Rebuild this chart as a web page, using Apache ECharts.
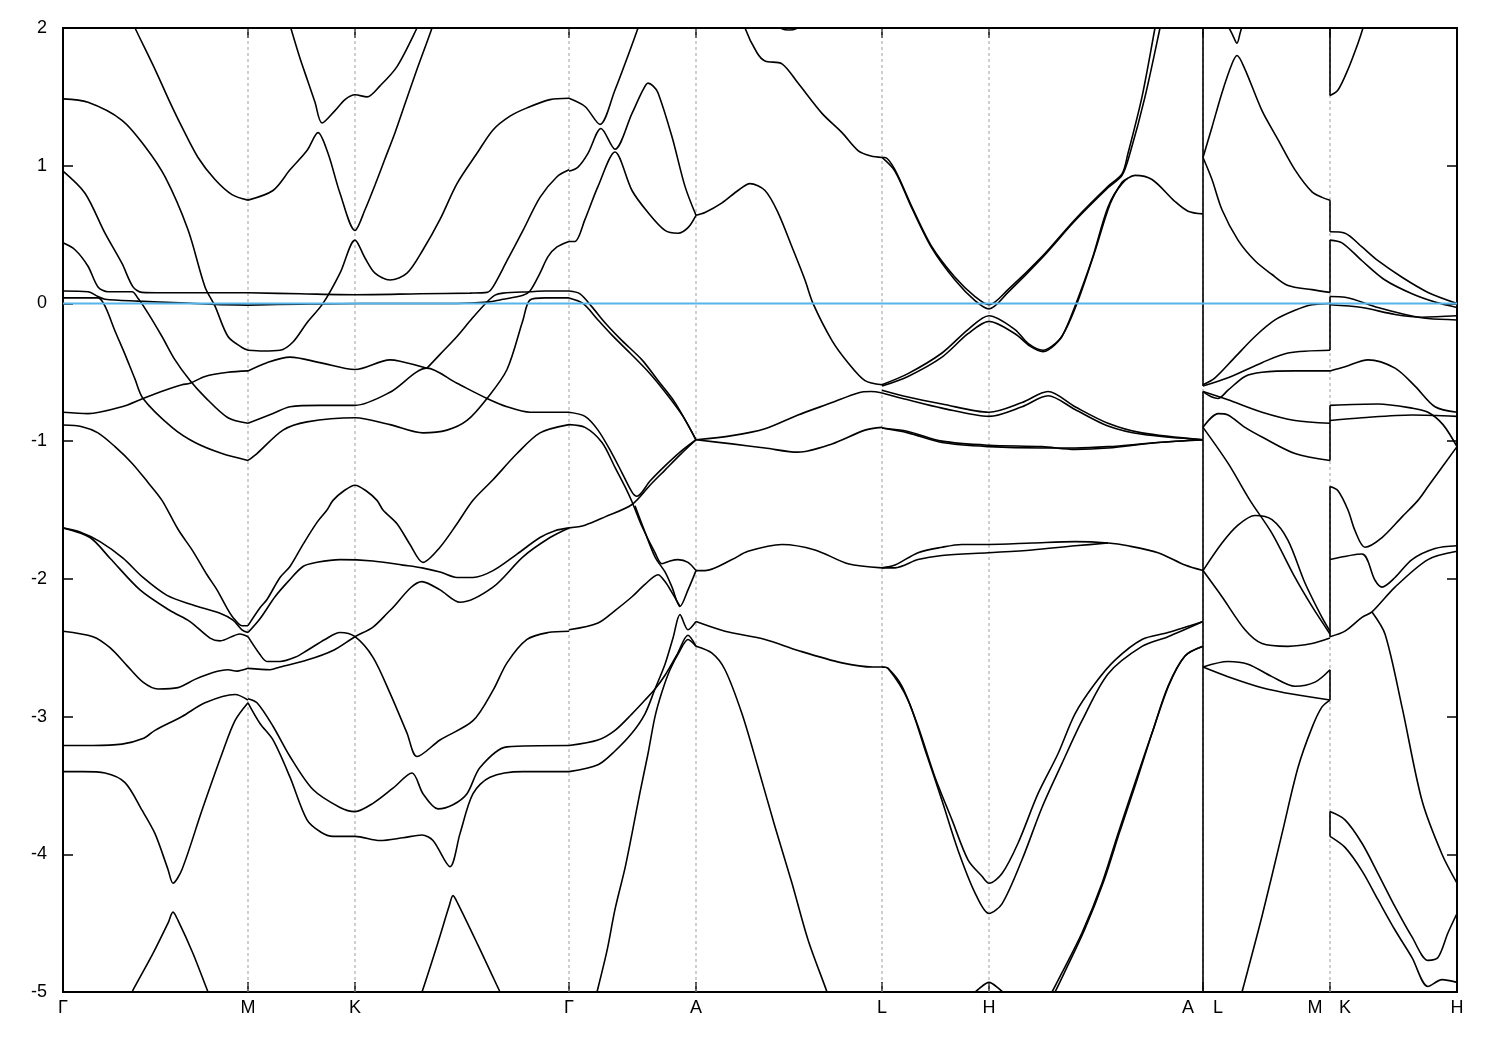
<!DOCTYPE html>
<html>
<head>
<meta charset="utf-8">
<script src="https://cdn.jsdelivr.net/npm/echarts@6/dist/echarts.min.js"></script>
<style>html,body{margin:0;padding:0;background:#fff}#c{width:1500px;height:1050px}</style>
</head>
<body>
<div id="c"></div>
<script>
// k-path positions of high-symmetry points and their labels
const kTicks = [0, 185, 292, 506, 633, 819, 926, 1140, 1267, 1394];
const kLabels = ['Γ', 'M', 'K', 'Γ', 'A', 'L', 'H', 'A|L', 'M|K', 'H'];
const fermiLevel = 0;

// Bands, Γ → M   ([k, E] pairs)
const bandsGM = [
 [[67,2.08],[72,2.0],[92,1.70],[107,1.46],[119,1.28],[135,1.06],[152,0.90],[169,0.79],[185,0.75]],
 [[0,1.485],[25,1.46],[59,1.33],[82,1.14],[102,0.92],[125,0.535],[142,0.12],[152,-0.02],[165,-0.24],[179,-0.32],[185,-0.34]],
 [[0,0.96],[22,0.80],[42,0.51],[59,0.29],[70,0.12],[79,0.08],[100,0.077],[185,0.077]],
 [[0,0.44],[12,0.39],[25,0.27],[35,0.12],[45,0.085],[69,0.085],[75,0.037],[85,-0.07],[99,-0.24],[112,-0.41],[127,-0.56],[142,-0.68],[165,-0.83],[185,-0.87]],
 [[0,0.09],[25,0.085],[35,0.05],[42,0.03],[75,0.017],[117,0.005],[152,-0.007],[185,-0.012]],
 [[0,0.04],[35,0.04],[42,-0.02],[52,-0.20],[62,-0.37],[72,-0.55],[80,-0.69],[109,-0.90],[132,-1.01],[159,-1.09],[185,-1.14]],
 [[0,-0.79],[25,-0.80],[59,-0.75],[80,-0.69],[102,-0.63],[119,-0.59],[127,-0.58],[142,-0.53],[165,-0.50],[185,-0.49]],
 [[0,-0.883],[19,-0.895],[35,-0.94],[52,-1.04],[69,-1.16],[85,-1.30],[99,-1.43],[115,-1.64],[130,-1.80],[144,-1.97],[154,-2.08],[163,-2.20],[170,-2.28],[179,-2.34],[185,-2.34]],
 [[0,-1.63],[17,-1.66],[37,-1.73],[60,-1.85],[80,-1.99],[104,-2.12],[130,-2.19],[157,-2.25],[170,-2.30],[179,-2.37],[185,-2.39]],
 [[0,-1.63],[27,-1.70],[47,-1.85],[77,-2.08],[107,-2.23],[127,-2.31],[147,-2.43],[157,-2.45],[177,-2.40],[185,-2.42]],
 [[0,-2.38],[30,-2.42],[47,-2.50],[64,-2.63],[80,-2.75],[95,-2.80],[115,-2.79],[132,-2.73],[150,-2.68],[165,-2.66],[174,-2.67],[185,-2.65]],
 [[0,-3.21],[30,-3.21],[59,-3.20],[80,-3.16],[92,-3.10],[119,-3.00],[142,-2.90],[172,-2.84],[185,-2.88]],
 [[0,-3.40],[20,-3.40],[42,-3.41],[62,-3.48],[79,-3.68],[92,-3.85],[105,-4.11],[110,-4.21],[119,-4.11],[139,-3.68],[159,-3.27],[172,-3.03],[185,-2.90]],
 [[66,-5.05],[69,-5.0],[90,-4.72],[105,-4.50],[110,-4.42],[115,-4.48],[130,-4.72],[145,-5.0],[148,-5.05]]
];

// Bands, M → K → Γ
const bandsMKG = [
 [[224,2.1],[227,2.02],[237,1.78],[245,1.61],[252,1.46],[259,1.31],[272,1.40],[282,1.48],[292,1.515],[304,1.50],[317,1.58],[334,1.72],[354,2.0],[357,2.06]],
 [[185,0.75],[210,0.82],[227,0.97],[244,1.11],[255,1.24],[265,1.09],[277,0.80],[292,0.53],[302,0.68],[312,0.86],[322,1.05],[332,1.24],[342,1.45],[354,1.70],[369,2.0],[371,2.06]],
 [[185,-0.34],[200,-0.345],[217,-0.34],[230,-0.28],[244,-0.14],[260,0.0],[277,0.22],[292,0.46],[302,0.33],[312,0.22],[327,0.17],[344,0.22],[360,0.39],[377,0.61],[394,0.87],[414,1.09],[430,1.26],[447,1.36],[464,1.42],[487,1.48],[506,1.49]],
 [[185,0.077],[237,0.07],[292,0.063],[357,0.07],[407,0.075],[424,0.08],[430,0.12],[444,0.31],[460,0.53],[477,0.77],[494,0.92],[506,0.97]],
 [[185,-0.012],[237,-0.005],[297,0.0],[357,0.0],[394,0.0],[424,0.01],[440,0.03],[460,0.06],[467,0.09],[477,0.22],[485,0.34],[494,0.41],[506,0.45]],
 [[364,-0.47],[377,-0.37],[394,-0.24],[409,-0.11],[424,0.01],[432,0.06],[440,0.075],[467,0.085],[482,0.09],[506,0.09]],
 [[185,-0.49],[204,-0.43],[227,-0.39],[257,-0.43],[292,-0.48],[327,-0.41],[337,-0.42],[364,-0.47]],
 [[185,-0.87],[210,-0.80],[227,-0.75],[257,-0.74],[292,-0.74],[327,-0.645],[364,-0.47],[394,-0.58],[424,-0.69],[444,-0.75],[467,-0.79],[506,-0.79]],
 [[185,-1.14],[194,-1.09],[220,-0.92],[244,-0.86],[292,-0.83],[327,-0.88],[360,-0.94],[384,-0.92],[404,-0.85],[424,-0.69],[444,-0.48],[460,-0.12],[467,0.025],[482,0.04],[506,0.04]],
 [[185,-2.34],[197,-2.21],[204,-2.15],[217,-1.99],[227,-1.91],[240,-1.75],[254,-1.59],[264,-1.50],[270,-1.43],[281,-1.36],[292,-1.32],[303,-1.36],[314,-1.43],[320,-1.50],[334,-1.60],[347,-1.75],[360,-1.88],[377,-1.77],[394,-1.60],[410,-1.43],[430,-1.28],[454,-1.09],[477,-0.94],[506,-0.88]],
 [[185,-2.39],[197,-2.29],[212,-2.13],[225,-2.02],[240,-1.91],[254,-1.88],[277,-1.86],[310,-1.87],[340,-1.90],[359,-1.92],[377,-1.95],[394,-1.99],[410,-1.99],[430,-1.94],[454,-1.82],[477,-1.70],[492,-1.65],[506,-1.63]],
 [[185,-2.65],[207,-2.66],[217,-2.64],[244,-2.59],[270,-2.52],[292,-2.42],[310,-2.35],[327,-2.23],[359,-2.02],[377,-2.08],[397,-2.17],[430,-2.06],[460,-1.84],[487,-1.70],[506,-1.63]],
 [[185,-2.42],[197,-2.55],[204,-2.60],[217,-2.60],[232,-2.57],[244,-2.52],[262,-2.44],[277,-2.39],[292,-2.42],[310,-2.57],[327,-2.83],[344,-3.12],[354,-3.29],[377,-3.17],[410,-3.03],[430,-2.81],[444,-2.61],[464,-2.44],[485,-2.39],[506,-2.38]],
 [[185,-2.87],[194,-2.90],[210,-3.07],[227,-3.29],[250,-3.53],[277,-3.66],[292,-3.69],[310,-3.63],[330,-3.52],[349,-3.41],[360,-3.56],[375,-3.67],[390,-3.64],[404,-3.56],[417,-3.37],[444,-3.22],[506,-3.21]],
 [[185,-2.90],[197,-3.05],[210,-3.17],[227,-3.44],[244,-3.75],[258,-3.84],[270,-3.87],[292,-3.87],[317,-3.90],[340,-3.88],[359,-3.86],[370,-3.90],[387,-4.09],[397,-3.85],[410,-3.56],[427,-3.44],[460,-3.40],[506,-3.40]],
 [[356,-5.05],[359,-5.0],[375,-4.64],[386,-4.38],[390,-4.30],[395,-4.36],[415,-4.66],[437,-5.0],[440,-5.05]]
];

// Bands, Γ → A
const bandsGA = [
 [[506,1.49],[522,1.43],[537,1.30],[552,1.55],[562,1.74],[575,2.0],[578,2.08]],
 [[506,0.96],[515,0.99],[525,1.09],[538,1.27],[552,1.12],[569,1.38],[580,1.55],[585,1.60],[590,1.58],[595,1.53],[609,1.21],[622,0.85],[633,0.64]],
 [[506,0.45],[512,0.45],[522,0.61],[535,0.85],[552,1.10],[569,0.82],[585,0.66],[602,0.53],[615,0.51],[625,0.55],[633,0.64]],
 [[506,0.09],[517,0.07],[529,-0.025],[542,-0.14],[559,-0.27],[579,-0.41],[595,-0.56],[612,-0.72],[633,-0.99]],
 [[506,0.04],[520,0.0],[535,-0.12],[549,-0.23],[567,-0.36],[587,-0.51],[605,-0.67],[620,-0.82],[633,-0.99]],
 [[506,-0.79],[522,-0.82],[535,-0.92],[549,-1.09],[559,-1.23],[569,-1.37],[574,-1.40],[587,-1.29],[602,-1.18],[617,-1.08],[633,-0.99]],
 [[506,-1.63],[522,-1.61],[542,-1.55],[569,-1.46],[587,-1.32],[602,-1.21],[617,-1.10],[633,-0.99]],
 [[506,-0.88],[522,-0.90],[539,-1.01],[552,-1.19],[562,-1.33],[569,-1.44],[579,-1.62],[592,-1.81],[599,-1.89],[607,-1.87],[615,-1.86],[625,-1.88],[633,-1.94]],
 [[572,-1.47],[582,-1.66],[592,-1.84],[602,-1.95],[609,-2.06],[617,-2.20],[625,-2.08],[633,-1.94]],
 [[506,-2.37],[535,-2.32],[552,-2.23],[569,-2.13],[582,-2.04],[595,-1.97],[602,-2.02],[609,-2.10],[617,-2.20]],
 [[506,-3.40],[535,-3.35],[552,-3.25],[569,-3.12],[582,-2.98],[592,-2.80],[602,-2.62],[610,-2.43],[617,-2.26],[625,-2.37],[633,-2.31]],
 [[506,-3.21],[535,-3.17],[552,-3.10],[569,-2.98],[582,-2.88],[592,-2.80],[602,-2.70],[614,-2.55],[625,-2.41],[633,-2.49]],
 [[532,-5.05],[534,-5.0],[544,-4.70],[552,-4.40],[562,-4.10],[569,-3.85],[577,-3.55],[585,-3.27],[592,-3.00],[599,-2.82],[607,-2.66],[617,-2.52],[625,-2.44],[633,-2.49]]
];

// Bands, A → L
const bandsAL = [
 [[633,0.64],[642,0.66],[659,0.73],[675,0.82],[687,0.87],[702,0.82],[715,0.66],[729,0.41],[742,0.17],[750,0.0],[769,-0.27],[785,-0.43],[802,-0.56],[819,-0.59]],
 [[679,2.12],[682,2.0],[694,1.82],[702,1.76],[719,1.74],[735,1.60],[759,1.38],[779,1.24],[795,1.11],[808,1.07],[819,1.06]],
 [[713,2.04],[719,1.995],[726,1.985],[733,1.995],[739,2.04]],
 [[633,-0.99],[669,-0.96],[702,-0.91],[735,-0.81],[769,-0.72],[795,-0.65],[808,-0.64],[819,-0.65]],
 [[633,-0.99],[669,-1.02],[702,-1.05],[735,-1.08],[769,-1.02],[802,-0.92],[819,-0.90]],
 [[633,-1.94],[642,-1.94],[669,-1.86],[685,-1.80],[719,-1.75],[752,-1.79],[785,-1.89],[819,-1.92]],
 [[633,-2.31],[662,-2.38],[702,-2.44],[735,-2.52],[779,-2.61],[810,-2.64],[819,-2.64]],
 [[633,-2.49],[649,-2.54],[662,-2.66],[679,-2.98],[695,-3.37],[712,-3.80],[729,-4.21],[745,-4.62],[764,-5.0],[767,-5.07]]
];

// Bands, L → H → A
const bandsLHA = [
 [[819,1.06],[822,1.06],[832,0.97],[849,0.70],[869,0.41],[892,0.19],[912,0.05],[926,-0.01],[945,0.10],[979,0.34],[1012,0.61],[1045,0.85],[1059,0.94],[1065,1.09],[1079,1.50],[1092,2.0],[1094,2.08]],
 [[819,1.06],[832,0.96],[849,0.69],[869,0.40],[892,0.17],[912,0.02],[926,-0.04],[945,0.08],[979,0.33],[1012,0.60],[1045,0.84],[1059,0.93],[1067,1.09],[1082,1.50],[1097,2.0],[1099,2.08]],
 [[819,-0.59],[845,-0.51],[879,-0.36],[905,-0.19],[926,-0.09],[952,-0.19],[965,-0.29],[980,-0.34],[989,-0.31],[999,-0.24],[1012,-0.02],[1029,0.32],[1045,0.70],[1059,0.87],[1072,0.93],[1089,0.90],[1112,0.74],[1125,0.67],[1140,0.65]],
 [[819,-0.60],[845,-0.53],[879,-0.39],[905,-0.22],[926,-0.13],[952,-0.22],[967,-0.31],[980,-0.35],[992,-0.30],[1002,-0.20],[1015,0.02],[1032,0.38],[1047,0.72],[1059,0.88],[1065,0.91]],
 [[819,-0.63],[845,-0.68],[879,-0.73],[926,-0.79],[959,-0.72],[985,-0.64],[1012,-0.75],[1045,-0.87],[1079,-0.94],[1140,-0.99]],
 [[819,-0.65],[845,-0.70],[879,-0.76],[926,-0.82],[959,-0.75],[985,-0.67],[1012,-0.77],[1045,-0.89],[1079,-0.95],[1140,-0.99]],
 [[819,-0.905],[845,-0.93],[879,-1.0],[926,-1.03],[979,-1.04],[1012,-1.06],[1045,-1.05],[1095,-1.01],[1140,-0.99]],
 [[819,-0.905],[845,-0.94],[879,-1.01],[926,-1.04],[979,-1.05],[1012,-1.05],[1045,-1.04],[1095,-1.01],[1140,-0.99]],
 [[819,-1.92],[832,-1.90],[855,-1.81],[879,-1.77],[899,-1.75],[925,-1.75],[969,-1.74],[1012,-1.73],[1045,-1.74],[1065,-1.76],[1095,-1.81],[1122,-1.90],[1140,-1.94]],
 [[819,-1.92],[832,-1.92],[855,-1.86],[879,-1.83],[925,-1.81],[969,-1.79],[1012,-1.76],[1045,-1.74]],
 [[819,-2.64],[825,-2.65],[839,-2.78],[855,-3.07],[872,-3.44],[889,-3.75],[905,-4.04],[919,-4.16],[926,-4.21],[939,-4.14],[955,-3.92],[975,-3.56],[995,-3.27],[1012,-2.98],[1032,-2.76],[1052,-2.59],[1079,-2.44],[1105,-2.39],[1140,-2.31]],
 [[819,-2.64],[825,-2.65],[845,-2.88],[862,-3.24],[879,-3.61],[895,-3.97],[912,-4.28],[926,-4.43],[939,-4.36],[959,-4.04],[979,-3.66],[999,-3.34],[1019,-3.03],[1045,-2.69],[1079,-2.49],[1105,-2.42],[1140,-2.31]],
 [[985,-5.05],[989,-5.0],[999,-4.86],[1019,-4.57],[1039,-4.21],[1055,-3.85],[1072,-3.48],[1089,-3.12],[1105,-2.78],[1122,-2.56],[1140,-2.49]],
 [[988,-5.05],[992,-5.0],[1002,-4.85],[1022,-4.54],[1041,-4.19],[1057,-3.83],[1074,-3.46],[1090,-3.10],[1106,-2.77],[1122,-2.56],[1140,-2.49]],
 [[905,-5.05],[917,-4.97],[926,-4.93],[935,-4.97],[947,-5.05]]
];

// Bands, L → M
const bandsLM = [
 [[1163,2.04],[1169,1.96],[1174,1.89],[1177,1.96],[1180,2.04]],
 [[1140,1.06],[1149,1.28],[1159,1.53],[1169,1.74],[1174,1.80],[1182,1.70],[1199,1.40],[1215,1.19],[1232,0.97],[1249,0.81],[1259,0.77],[1267,0.75]],
 [[1140,1.06],[1149,0.90],[1159,0.68],[1175,0.46],[1192,0.31],[1209,0.21],[1225,0.13],[1249,0.10],[1267,0.08]],
 [[1140,-0.59],[1152,-0.54],[1172,-0.39],[1192,-0.24],[1212,-0.12],[1232,-0.05],[1249,-0.01],[1267,0.0]],
 [[1140,-0.60],[1165,-0.54],[1199,-0.43],[1225,-0.36],[1267,-0.34]],
 [[1140,-0.64],[1149,-0.68],[1155,-0.69],[1165,-0.63],[1182,-0.53],[1199,-0.50],[1232,-0.49],[1267,-0.49]],
 [[1140,-0.64],[1165,-0.70],[1199,-0.79],[1232,-0.85],[1267,-0.87]],
 [[1140,-0.90],[1155,-0.80],[1165,-0.81],[1182,-0.90],[1199,-0.97],[1232,-1.09],[1267,-1.14]],
 [[1140,-0.90],[1165,-1.16],[1187,-1.43],[1209,-1.67],[1232,-1.99],[1249,-2.20],[1267,-2.40]],
 [[1140,-1.94],[1159,-1.74],[1175,-1.61],[1192,-1.54],[1209,-1.57],[1225,-1.72],[1242,-2.03],[1259,-2.28],[1267,-2.38]],
 [[1140,-1.94],[1159,-2.13],[1182,-2.37],[1199,-2.47],[1225,-2.49],[1249,-2.47],[1267,-2.43]],
 [[1140,-2.64],[1165,-2.60],[1185,-2.62],[1209,-2.71],[1232,-2.78],[1252,-2.75],[1267,-2.66]],
 [[1140,-2.64],[1165,-2.71],[1199,-2.79],[1232,-2.84],[1267,-2.88]],
 [[1177,-5.05],[1179,-5.0],[1199,-4.45],[1219,-3.85],[1235,-3.37],[1249,-3.08],[1259,-2.93],[1267,-2.88]]
];

// Bands, K → H
const bandsKH = [
 [[1267,1.51],[1275,1.55],[1285,1.70],[1295,1.89],[1300,2.0],[1302,2.06]],
 [[1267,0.52],[1282,0.51],[1299,0.41],[1315,0.31],[1339,0.19],[1365,0.08],[1394,0.0]],
 [[1267,0.46],[1279,0.44],[1299,0.31],[1322,0.17],[1349,0.07],[1372,0.01],[1394,-0.03]],
 [[1267,0.05],[1282,0.045],[1315,-0.03],[1342,-0.08],[1365,-0.11],[1394,-0.12]],
 [[1267,-0.01],[1299,-0.03],[1332,-0.08],[1359,-0.10],[1394,-0.09]],
 [[1267,-0.49],[1282,-0.46],[1305,-0.41],[1332,-0.47],[1352,-0.60],[1372,-0.75],[1394,-0.79]],
 [[1267,-0.74],[1315,-0.73],[1349,-0.76],[1365,-0.79],[1380,-0.88],[1394,-1.04]],
 [[1267,-0.85],[1299,-0.83],[1349,-0.81],[1394,-0.82]],
 [[1267,-1.33],[1275,-1.36],[1285,-1.50],[1292,-1.65],[1302,-1.77],[1319,-1.70],[1339,-1.55],[1355,-1.43],[1365,-1.33],[1394,-1.04]],
 [[1267,-1.86],[1299,-1.82],[1312,-2.01],[1319,-2.06],[1332,-1.99],[1349,-1.86],[1372,-1.78],[1394,-1.76]],
 [[1267,-2.42],[1282,-2.38],[1299,-2.28],[1309,-2.24],[1332,-2.06],[1365,-1.86],[1394,-1.80]],
 [[1309,-2.24],[1322,-2.40],[1339,-2.93],[1359,-3.61],[1379,-4.0],[1394,-4.21]],
 [[1267,-3.69],[1282,-3.75],[1299,-3.92],[1315,-4.14],[1332,-4.38],[1349,-4.60],[1365,-4.77],[1375,-4.75],[1385,-4.57],[1394,-4.43]],
 [[1267,-3.87],[1282,-3.95],[1299,-4.12],[1315,-4.33],[1332,-4.55],[1349,-4.75],[1365,-4.96],[1379,-4.91],[1394,-4.93]]
];

// Discontinuities of the path: energy pairs joined at A|L and at M|K
const jumpsAL = [[2.6,1.06],[1.06,0.65],[0.65,-0.60],[-0.64,-0.99],[-0.99,-2.31],[-2.31,-2.64],[-2.64,-5.5]];
const jumpsMK = [[2.6,1.51],[0.75,0.52],[0.46,0.08],[0.05,-0.34],[-0.74,-1.14],[-1.33,-2.42],[-2.66,-2.88],[-3.69,-3.87]];

const kMin = kTicks[0], kMax = kTicks[kTicks.length - 1];
const eMin = -5, eMax = 2;

const chart = echarts.init(document.getElementById('c'), null, {renderer: 'canvas'});
const series = [];

// dashed guides at interior high-symmetry points
kTicks.slice(1, -1).forEach(k => {
  series.push({
    type: 'line', data: [[k, eMin], [k, eMax]], symbol: 'none', silent: true, z: 1,
    lineStyle: {color: '#a0a0a0', width: 1, type: [3, 3]}
  });
});

const bandStyle = {color: '#000', width: 1.6};
[bandsGM, bandsMKG, bandsGA, bandsAL, bandsLHA, bandsLM, bandsKH].forEach(group => {
  group.forEach(pts => {
    series.push({
      type: 'line', data: pts, symbol: 'none', smooth: 0.3,
      silent: true, z: 3, clip: true, lineStyle: bandStyle
    });
  });
});
[[kTicks[7], jumpsAL], [kTicks[8], jumpsMK]].forEach(([k, list]) => {
  list.forEach(([e1, e2]) => {
    series.push({type: 'line', data: [[k, e1], [k, e2]], symbol: 'none', silent: true, z: 3, clip: true, lineStyle: bandStyle});
  });
});

// Fermi level
series.push({
  type: 'line', data: [[kMin, fermiLevel], [kMax, fermiLevel]], symbol: 'none', silent: true, z: 6,
  lineStyle: {color: '#56B4E9', width: 2}
});

const labelFont = {fontFamily: 'Liberation Sans, Arial, sans-serif', fontSize: 18, color: '#000'};
function kLabel(v) {
  const i = kTicks.indexOf(v);
  if (i < 0) return '';
  const t = kLabels[i];
  if (t.indexOf('|') >= 0) {
    const p = t.split('|');
    return '{l|' + p[0] + '}{r|' + p[1] + '}';
  }
  return t;
}
const tickStyle = {color: '#000', width: 1.5};

chart.setOption({
  animation: false,
  backgroundColor: '#fff',
  grid: {left: 63, right: 43, top: 28, bottom: 58, show: true, borderColor: '#000', borderWidth: 2, backgroundColor: 'transparent'},
  xAxis: [{
    type: 'value', min: kMin, max: kMax, position: 'bottom',
    axisLine: {show: false, onZero: false},
    splitLine: {show: false},
    axisTick: {show: true, inside: true, length: 10, customValues: kTicks, lineStyle: tickStyle},
    axisLabel: Object.assign({
      customValues: kTicks, margin: 7, formatter: kLabel, showMinLabel: true, showMaxLabel: true,
      rich: {
        l: Object.assign({width: 30, align: 'center'}, labelFont),
        r: Object.assign({width: 30, align: 'center'}, labelFont)
      }
    }, labelFont)
  }, {
    type: 'value', min: kMin, max: kMax, position: 'top',
    axisLine: {show: false, onZero: false}, splitLine: {show: false},
    axisTick: {show: true, inside: true, length: 10, customValues: kTicks, lineStyle: tickStyle},
    axisLabel: {show: false}
  }],
  yAxis: [{
    type: 'value', min: eMin, max: eMax, interval: 1, position: 'left',
    axisLine: {show: false, onZero: false}, splitLine: {show: false},
    axisTick: {show: true, inside: true, length: 10, lineStyle: tickStyle},
    axisLabel: Object.assign({margin: 16, showMinLabel: true, showMaxLabel: true}, labelFont)
  }, {
    type: 'value', min: eMin, max: eMax, interval: 1, position: 'right',
    axisLine: {show: false, onZero: false}, splitLine: {show: false},
    axisTick: {show: true, inside: true, length: 10, lineStyle: tickStyle},
    axisLabel: {show: false}
  }],
  series: series
});
</script>
</body>
</html>
